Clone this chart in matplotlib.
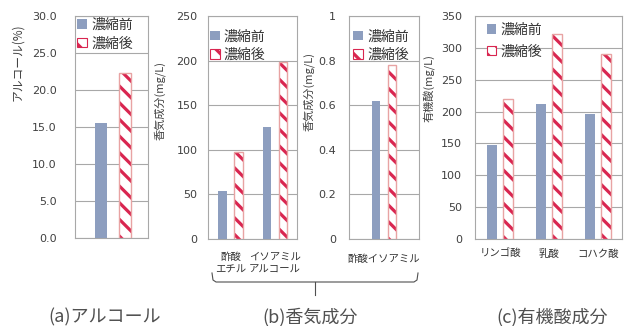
import matplotlib
matplotlib.use('Agg')
import matplotlib.pyplot as plt
import numpy as np
from matplotlib.patches import Patch
from matplotlib.lines import Line2D

plt.rcParams['font.family'] = ['Noto Sans CJK JP', 'DejaVu Sans']
plt.rcParams['hatch.linewidth'] = 2.3

# data
alc_before = [15.5]
alc_after = [22.3]
alc_ticks = [0, 5, 10, 15, 20, 25, 30]
alc_ticklabels = ['0.0', '5.0', '10.0', '15.0', '20.0', '25.0', '30.0']

aroma_cats = ['酢酸\nエチル', 'イソアミル\nアルコール']
aroma_before = [54, 126]
aroma_after = [98, 198]
aroma_ticks = [0, 50, 100, 150, 200, 250]

ester_cats = ['酢酸イソアミル']
ester_before = [0.62]
ester_after = [0.78]
ester_ticks = [0, 0.2, 0.4, 0.6, 0.8, 1.0]
ester_ticklabels = ['0', '0.2', '0.4', '0.6', '0.8', '1']

acid_cats = ['リンゴ酸', '乳酸', 'コハク酸']
acid_before = [147, 212, 196]
acid_after = [219, 322, 291]
acid_ticks = [0, 50, 100, 150, 200, 250, 300, 350]

legend_labels = ['濃縮前', '濃縮後']

BLUE = '#8d9ebf'
RED = '#d92650'
PINK = '#e8a3a3'
GRID = '#a8a8a8'
TXT = '#404040'
HATCH = '\\\\'

W, H = 625, 326
fig = plt.figure(figsize=(W / 100, H / 100), dpi=100)


def px_rect(l, r, t, b):
    return [l / W, 1 - b / H, (r - l) / W, (b - t) / H]


def draw_panel(rect, before, after, off, width, xlim, ylim, ticks, ticklabels,
               cats, pad, leg_anchor, leg_spacing, xfont, xpad, xspacing=1.2):
    ax = fig.add_axes(rect)
    x = np.arange(len(before))
    ax.bar(x - off, before, width, color=BLUE, zorder=3)
    ax.bar(x + off, after, width, facecolor='white', edgecolor=RED,
           linewidth=0, hatch=HATCH, zorder=3)
    ax.bar(x + off, after, width, fill=False, edgecolor=PINK,
           linewidth=1.0, zorder=4)
    ax.set_xlim(*xlim)
    ax.set_ylim(*ylim)
    ax.set_yticks(ticks)
    ax.set_yticklabels(ticklabels if ticklabels else [str(t) for t in ticks],
                       family='DejaVu Sans', fontsize=8, color=TXT)
    ax.set_xticks(x)
    ax.set_xticklabels(cats, fontsize=xfont, color='#333333', linespacing=xspacing)
    ax.tick_params(axis='y', length=0, pad=pad)
    ax.tick_params(axis='x', length=0, pad=xpad)
    ax.grid(axis='y', color=GRID, linewidth=0.8, zorder=0)
    for s in ax.spines.values():
        s.set_color(GRID)
        s.set_linewidth(0.8)
    handles = [Patch(facecolor=BLUE, edgecolor='none'),
               Patch(facecolor='white', edgecolor=RED, hatch=HATCH, linewidth=0.8)]
    ax.legend(handles, legend_labels, loc='upper left', bbox_to_anchor=leg_anchor,
              frameon=False, fontsize=10, handlelength=0.7, handleheight=0.7,
              handletextpad=0.3, borderaxespad=0, borderpad=0,
              labelspacing=leg_spacing, labelcolor='#333333')
    return ax


draw_panel(px_rect(75, 148, 16, 238), alc_before, alc_after, 0.164, 0.164,
           (-0.52, 0.48), (0, 30), alc_ticks, alc_ticklabels, [''], 13,
           (0.03, 0.99), 0.3, 8, 6)
draw_panel(px_rect(208, 297, 16, 239), aroma_before, aroma_after, 0.18, 0.2,
           (-0.506, 1.494), (0, 250), aroma_ticks, None, aroma_cats, 7.5,
           (0.02, 0.94), 0.3, 7.5, 9, 1.4)
draw_panel(px_rect(349, 419, 16, 239), ester_before, ester_after, 0.118, 0.12,
           (-0.5, 0.5), (0, 1), ester_ticks, ester_ticklabels, ester_cats, 9.5,
           (0.06, 0.94), 0.3, 7.5, 11)
draw_panel(px_rect(475, 622, 16, 239), acid_before, acid_after, 0.163, 0.2,
           (-0.51, 2.49), (0, 350), acid_ticks, None, acid_cats, 9.5,
           (0.08, 0.97), 0.55, 7.5, 7)

# y labels
fig.text(18 / W, 1 - 62 / H, 'アルコール(%)', rotation=90, ha='center', va='center',
         fontsize=8.5, color=TXT)
fig.text(160 / W, 1 - 100 / H, '香気成分(mg/L)', rotation=90, ha='center', va='center',
         fontsize=8, color=TXT)
fig.text(309 / W, 1 - 92 / H, '香気成分(mg/L)', rotation=90, ha='center', va='center',
         fontsize=8, color=TXT)
fig.text(429 / W, 1 - 88 / H, '有機酸(mg/L)', rotation=90, ha='center', va='center',
         fontsize=8, color=TXT)

# brace under aroma panels
bx = np.array([212, 213, 216, 315, 414, 417, 418])
by = np.array([273, 280, 282, 282, 282, 280, 273])
fig.add_artist(Line2D(bx / W, 1 - by / H, color='#505050', linewidth=0.8))
fig.add_artist(Line2D(np.array([315, 315]) / W, 1 - np.array([282, 295]) / H,
                      color='#505050', linewidth=0.8))

# panel captions
for cx, s in [(105, '(a)アルコール'), (310, '(b)香気成分'), (552, '(c)有機酸成分')]:
    fig.text(cx / W, 1 - 317 / H, s, ha='center', va='center', fontsize=13,
             color='#505050')

fig.savefig('out.png', dpi=100)
